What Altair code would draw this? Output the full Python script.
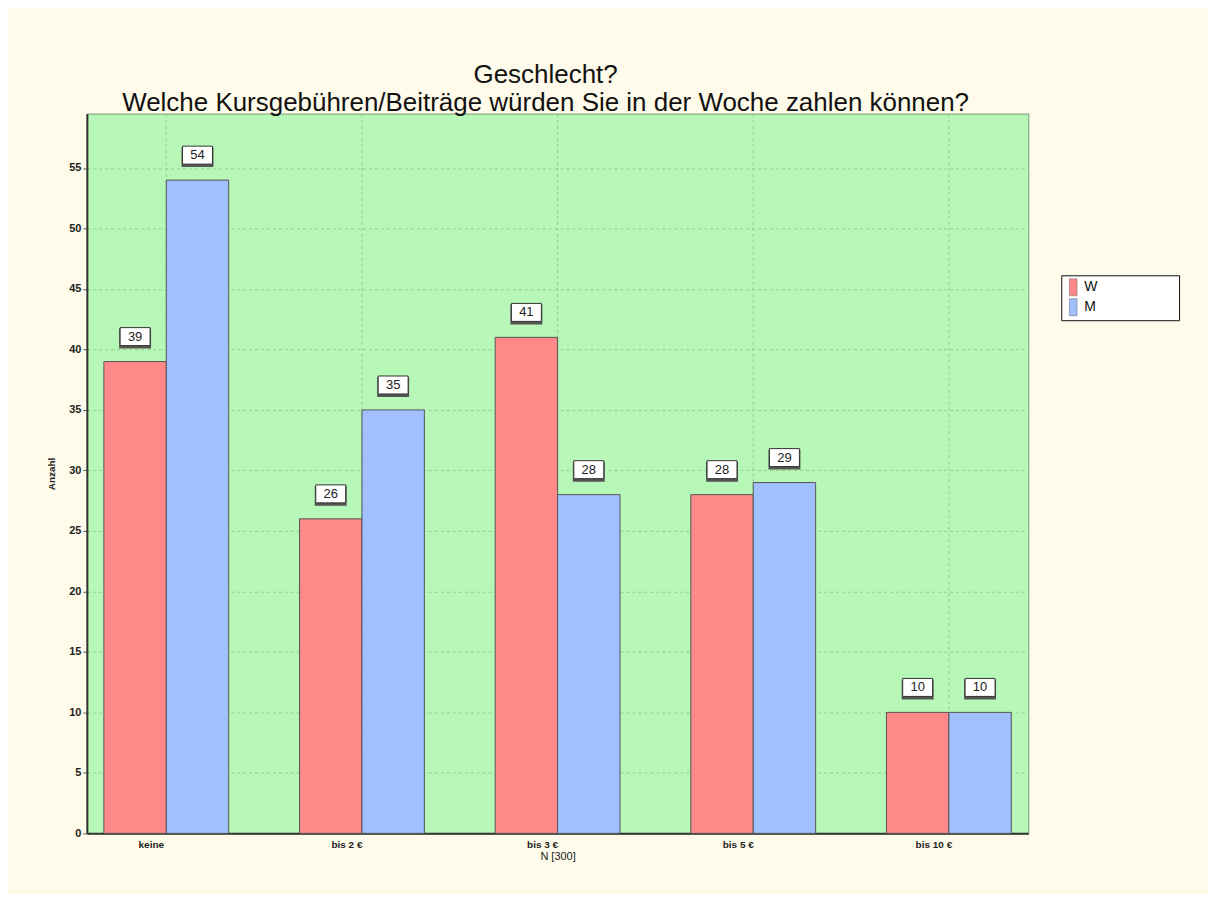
import altair as alt
import pandas as pd

categories = ["keine", "bis 2 €", "bis 3 €", "bis 5 €", "bis 10 €"]
series_names = ["W", "M"]
values_w = [39, 26, 41, 28, 10]
values_m = [54, 35, 28, 29, 10]
y_ticks = [0, 5, 10, 15, 20, 25, 30, 35, 40, 45, 50, 55]

rows = []
for c, vw, vm in zip(categories, values_w, values_m):
    rows.append({"Kategorie": c, "Geschlecht": "W", "Anzahl": vw})
    rows.append({"Kategorie": c, "Geschlecht": "M", "Anzahl": vm})
df = pd.DataFrame(rows)

FONT = "Liberation Sans"

x_enc = alt.X(
    "Kategorie:N",
    sort=categories,
    scale=alt.Scale(paddingInner=0.362, paddingOuter=0.087),
    axis=alt.Axis(
        title="N [300]",
        labelAngle=0,
        labelOffset=-15,
        labelFont=FONT,
        labelFontSize=10,
        labelFontWeight="bold",
        labelColor="#222222",
        labelPadding=6,
        titleFont=FONT,
        titleFontSize=11,
        titleFontWeight="normal",
        titleColor="#222222",
        titlePadding=1,
        ticks=False,
        grid=True,
        bandPosition=0.5,
        gridDash=[3, 3],
        gridColor="#8fcf8f",
        gridWidth=1,
        domainColor="#333333",
        domainWidth=2,
    ),
)
xo_enc = alt.XOffset("Geschlecht:N", sort=series_names,
                     scale=alt.Scale(paddingInner=0, paddingOuter=0))
y_enc = alt.Y(
    "Anzahl:Q",
    scale=alt.Scale(domain=[0, 59.5], nice=False),
    axis=alt.Axis(
        title="Anzahl",
        values=y_ticks,
        labelFont=FONT,
        labelFontSize=11,
        labelFontWeight="bold",
        labelColor="#222222",
        labelPadding=2,
        tickSize=4,
        tickColor="#555555",
        titleFont=FONT,
        titleFontSize=10,
        titleFontWeight="bold",
        titleColor="#222222",
        titlePadding=12,
        grid=True,
        gridDash=[3, 3],
        gridColor="#8fcf8f",
        domainColor="#333333",
        domainWidth=2,
    ),
)

PAD = " " * 20 + "\u200b"
color_enc = alt.Color(
    "Geschlecht:N",
    sort=series_names,
    scale=alt.Scale(domain=series_names, range=["#ff8888", "#a0c0ff"]),
    legend=alt.Legend(
        title=None,
        orient="none",
        legendX=976,
        legendY=162,
        symbolType="M-0.45,-1H0.45V1H-0.45Z",
        symbolSize=289,
        symbolStrokeColor="#666666",
        symbolStrokeWidth=0.5,
        symbolOpacity=1,
        labelFont=FONT,
        labelFontSize=14,
        labelColor="#111111",
        labelOffset=2,
        labelExpr="datum.label + '" + PAD + "'",
        labelLimit=300,
        rowPadding=0,
        padding=3,
        fillColor="white",
        strokeColor="#111111",
    ),
)

base = alt.Chart(df).encode(x=x_enc, xOffset=xo_enc, y=y_enc)

bars = base.mark_bar(stroke="#555555", strokeWidth=1, opacity=1).encode(color=color_enc)

box_path = "M-1.5,-0.9H1.5V0.9H-1.5Z"
shadow = base.mark_point(
    shape=box_path, size=400, filled=True, fill="#555555", stroke="#555555",
    opacity=1, xOffset=2, yOffset=-23,
)
box = base.mark_point(
    shape=box_path, size=400, filled=True, fill="white", stroke="#333333",
    strokeWidth=1, opacity=1, yOffset=-25,
)
label = base.mark_text(
    font=FONT, fontSize=13, color="#222222", baseline="middle", align="center", dy=-25,
).encode(text="Anzahl:Q")

chart = (
    alt.layer(bars, shadow, box, label)
    .properties(
        width=943,
        height=721,
        autosize=alt.AutoSizeParams(type="none"),
        padding={"left": 79, "top": 105, "right": 180, "bottom": 60},
        background="#fffbea",
        title=alt.TitleParams(
            text=["Geschlecht?", "Welche Kursgebühren/Beiträge würden Sie in der Woche zahlen können?"],
            font=FONT,
            fontSize=26,
            fontWeight="normal",
            color="#111111",
            anchor="middle",
            dx=-12,
            offset=-2,
            lineHeight=28,
        ),
    )
    .configure_view(fill="#b7f7b7", stroke="#7a9a7a", strokeWidth=1)
)

chart.save("out.html", embed_options={"renderer": "svg", "actions": False})
